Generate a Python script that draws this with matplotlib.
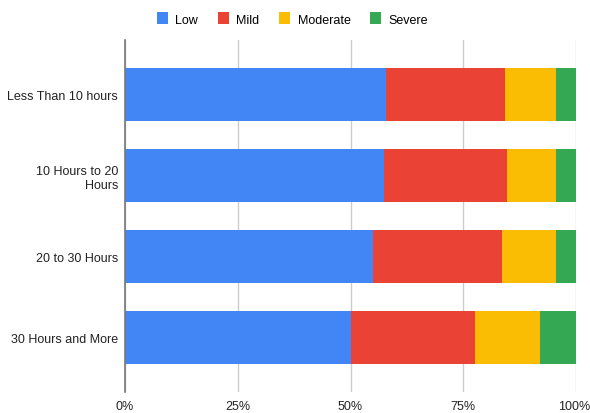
import matplotlib.pyplot as plt
from matplotlib.patches import Patch
from matplotlib.transforms import ScaledTranslation
import numpy as np

plt.rcParams['font.family'] = ['Liberation Sans', 'DejaVu Sans']

categories = ["Less Than 10 hours", "10 Hours to 20\nHours", "20 to 30 Hours", "30 Hours and More"]
series_names = ["Low", "Mild", "Moderate", "Severe"]
low = [57.8, 57.4, 55.0, 50.2]
mild = [26.5, 27.3, 28.6, 27.3]
moderate = [11.3, 10.9, 12.0, 14.6]
severe = [4.4, 4.4, 4.4, 7.9]
colors = ["#4285F4", "#EA4335", "#FBBC04", "#34A853"]
xtick_labels = ["0%", "25%", "50%", "75%", "100%"]

fig = plt.figure(figsize=(5.9, 4.14), dpi=100)
ax = fig.add_axes([125 / 590, 21 / 414, 451 / 590, 352 / 414])

y = np.arange(len(categories))
left = np.zeros(len(categories))
for vals, name, col in zip([low, mild, moderate, severe], series_names, colors):
    ax.barh(y, vals, left=left, height=0.65, color=col, label=name, zorder=3)
    left += np.array(vals)

ax.set_ylim(len(categories) - 1 + 0.675, -0.675)
ax.set_xlim(0, 100)
ax.set_yticks(y)
ax.set_yticklabels(categories, fontsize=9, color="#222222")
ax.set_xticks([0, 25, 50, 75, 100])
ax.set_xticklabels(xtick_labels, fontsize=9, color="#222222")
ax.tick_params(axis='both', length=0)
ax.tick_params(axis='y', pad=5)
ax.tick_params(axis='x', pad=6)
ax.grid(axis='x', color="#cccccc", linewidth=1, zorder=0)
for s in ["top", "right", "bottom"]:
    ax.spines[s].set_visible(False)
ax.spines["left"].set_color("#777777")
ax.spines["left"].set_linewidth(1.2)
ax.spines["left"].set_zorder(4)

# keep the last percentage label inside the canvas
last = ax.get_xticklabels()[-1]
last.set_transform(last.get_transform() + ScaledTranslation(-2 / 100, 0, fig.dpi_scale_trans))

handles = [Patch(facecolor=c, edgecolor='none', label=n) for c, n in zip(colors, series_names)]
fig.legend(handles=handles, loc='upper center', bbox_to_anchor=(0.496, 0.995), ncol=4,
           frameon=False, fontsize=9, handlelength=0.85, handleheight=1.1,
           handletextpad=0.6, columnspacing=1.6)

fig.savefig("out.png", dpi=100)
